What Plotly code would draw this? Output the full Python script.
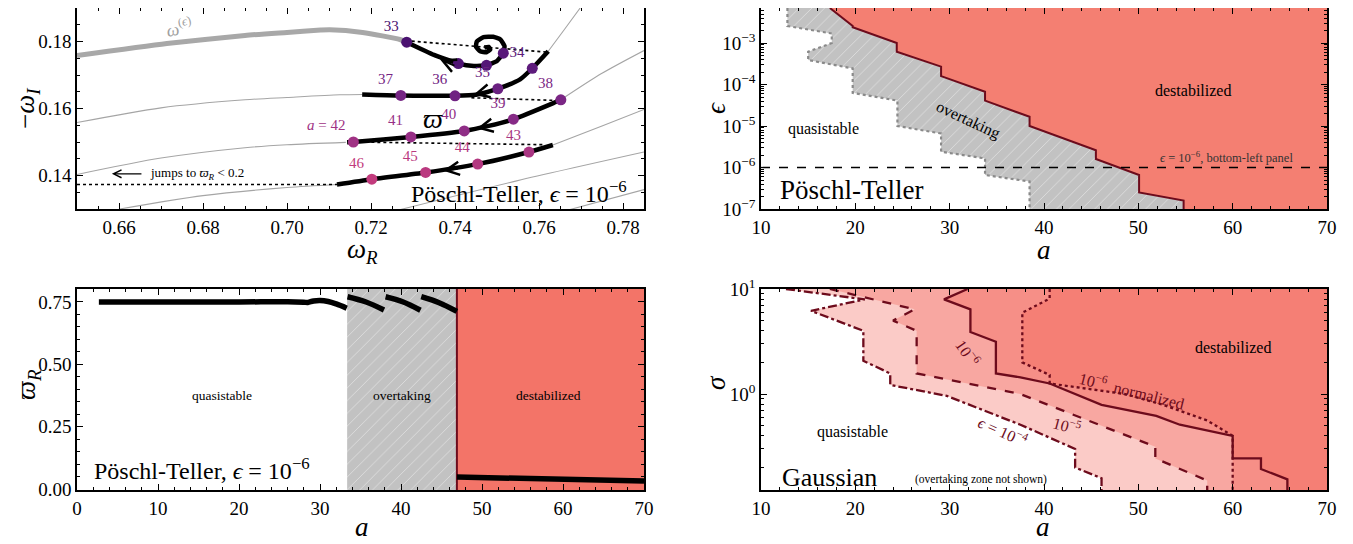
import numpy as np
import plotly.graph_objects as go

FONT = "Liberation Serif"
MAROON = "#6D0B1C"

# ---------------- top-left: spectra in complex plane ----------------
# thick grey branch omega^(eps)
weps_R = [0.650, 0.6714, 0.690, 0.700, 0.708, 0.7102, 0.718, 0.7269, 0.7285]
weps_I = [0.1758, 0.1794, 0.1818, 0.1827, 0.1834, 0.1835, 0.1827, 0.1806, 0.1798]
# thin grey background branches
g_lines = [
    ([0.650, 0.670, 0.690, 0.700, 0.7126, 0.718], [0.1558, 0.1602, 0.1626, 0.1633, 0.1641, 0.1642]),
    ([0.650, 0.670, 0.690, 0.700, 0.714], [0.1403, 0.1452, 0.1483, 0.1492, 0.1499]),
    ([0.6602, 0.680, 0.700, 0.712], [0.1300, 0.1340, 0.1364, 0.1373]),
    ([0.7622, 0.7660, 0.7698], [0.1771, 0.1835, 0.1900]),
    ([0.7652, 0.775, 0.785], [0.1626, 0.1705, 0.1773]),
    ([0.7633, 0.775, 0.785], [0.1491, 0.1548, 0.1597]),
    ([0.7253, 0.7547, 0.785], [0.1293, 0.1384, 0.1470]),
    ([0.7658, 0.785], [0.1293, 0.1358]),
]
# thick black followed branches
p1_R = [0.7285, 0.7350, 0.7408, 0.7445, 0.7475, 0.7500, 0.7515, 0.7518, 0.7508, 0.7491,
        0.7468, 0.7452, 0.7450, 0.7460, 0.7475, 0.7484, 0.7480, 0.7470]
p1_I = [0.1798, 0.1760, 0.1734, 0.1727, 0.1729, 0.1742, 0.1765, 0.1786, 0.1806, 0.1814,
        0.1813, 0.1800, 0.1784, 0.1771, 0.1768, 0.1776, 0.1784, 0.1782]
p2_R = [0.7179, 0.7271, 0.7400, 0.7450, 0.7502, 0.7555, 0.7584, 0.7622]
p2_I = [0.1642, 0.1639, 0.1638, 0.1641, 0.1659, 0.1687, 0.1720, 0.1771]
p3_R = [0.7652, 0.7634, 0.7539, 0.7480, 0.7422, 0.7295, 0.7158, 0.7143]
p3_I = [0.1626, 0.1616, 0.1568, 0.1548, 0.1533, 0.1515, 0.1500, 0.1499]
p4_R = [0.7633, 0.7576, 0.7454, 0.7330, 0.7202, 0.7119]
p4_I = [0.1491, 0.1470, 0.1434, 0.1409, 0.1389, 0.1373]
# dotted jumps
jumps = [
    ([0.7297, 0.7622], [0.1801, 0.1768]),
    ([0.7439, 0.7642], [0.1632, 0.1624]),
    ([0.7158, 0.7610], [0.1500, 0.1492]),
    ([0.650, 0.7119], [0.1373, 0.1373]),
]
# labelled dots
dot_a = [33, 34, 35, 36, 37, 38, 39, 40, 41, 42, 43, 44, 45, 46]
dot_R = [0.7285, 0.7584, 0.7502, 0.7400, 0.7271, 0.7652, 0.7539, 0.7422, 0.7295, 0.7158,
         0.7576, 0.7454, 0.7330, 0.7202]
dot_I = [0.1798, 0.1720, 0.1659, 0.1638, 0.1639, 0.1626, 0.1568, 0.1533, 0.1515, 0.1500,
         0.1470, 0.1434, 0.1409, 0.1389]
dot_col = ["#4A1270", "#5E1B7C", "#6A2080", "#702282", "#752483", "#7B2685", "#862A86",
           "#8F2D86", "#972F86", "#A03284", "#A93582", "#B33780", "#BA397F", "#C23B7D"]
spiral_R = [0.7408, 0.7475, 0.7515]
spiral_I = [0.1734, 0.1729, 0.1765]
spiral_col = ["#501474", "#541677", "#581879"]

# ---------------- top-right: Poschl-Teller phase diagram ----------------
destab_a = [17.3, 19.72, 19.72, 24.39, 24.39, 29.09, 29.09, 33.75, 33.75, 38.47, 38.47, 45.5, 45.5, 50.08, 50.08, 54.8, 54.8]
destab_eps = [7e-3, 2.57e-3, 2.4e-3, 1.0e-3, 6.2e-4, 2.7e-4, 1.6e-4, 6.7e-5, 4.1e-5, 1.67e-5, 1.0e-5, 2.6e-6, 1.6e-6, 6.6e-7, 2.5e-7, 1.6e-7, 1e-7]
overt_a = [12.8, 12.8, 17.5, 17.5, 15.0, 15.0, 19.72, 19.72, 24.46, 24.46, 29.09, 29.09, 33.75, 33.75, 38.47, 38.47]
overt_eps = [7e-3, 2.57e-3, 1.7e-3, 1.0e-3, 6.2e-4, 3.9e-4, 2.45e-4, 6.3e-5, 4.1e-5, 1.0e-5, 6.6e-6, 2.4e-6, 1.66e-6, 6.6e-7, 4.6e-7, 1e-7]
eps_range = [1e-7, 7e-3]
a_range = [10, 70]
eps_ref = 1e-6

# ---------------- bottom-left: varpi_R vs a ----------------
quasi_a = [2.7, 10, 20, 26, 28, 28.5, 29.2, 30, 31, 32, 33.3]
quasi_w = [0.750, 0.750, 0.750, 0.751, 0.749, 0.748, 0.754, 0.756, 0.752, 0.742, 0.725]
over_segs = [
    ([33.4, 35.6, 37.9], [0.771, 0.751, 0.718]),
    ([38.1, 40.2, 42.4], [0.771, 0.751, 0.717]),
    ([42.5, 44.7, 46.9], [0.771, 0.747, 0.712]),
]
dest_a = [46.9, 55, 62, 70]
dest_w = [0.048, 0.041, 0.036, 0.032]
a_overt_start = 33.35
a_destab_start = 46.9
w_range = [-0.004, 0.802]
bl_a_range = [0, 70]

# ---------------- bottom-right: Gaussian ----------------
e4_a = [12.65, 21.0, 15.3, 20.85, 20.85, 23.7, 23.7, 29.7, 37.5, 43.3, 43.3, 46.1, 46.1]
e4_s = [10.0, 7.96, 6.2, 4.0, 2.07, 1.57, 1.22, 0.96, 0.51, 0.30, 0.20, 0.158, 0.122]
e5_a = [17.3, 26.3, 24.0, 26.5, 26.5, 37.5, 51.8, 51.8, 57.3, 57.3]
e5_s = [10.0, 6.4, 5.0, 4.0, 1.57, 1.0, 0.315, 0.244, 0.15, 0.122]
e6_a = [31.9, 29.4, 32.2, 32.2, 34.9, 34.9, 37.5, 40.6, 46.1, 51.9, 54.4, 60.0, 60.0, 63.0, 63.0, 65.8, 65.8]
e6_s = [10.0, 7.96, 6.4, 3.9, 3.15, 1.57, 1.44, 1.26, 0.79, 0.62, 0.51, 0.40, 0.244, 0.244, 0.193, 0.154, 0.122]
e6n_a = [40.6, 40.6, 37.7, 37.7, 40.6, 40.6, 48.6, 52.6, 57.3, 60.0, 60.0]
e6n_s = [10.0, 8.1, 5.95, 2.0, 1.52, 1.26, 1.0, 0.79, 0.56, 0.40, 0.122]
sig_range = [0.122, 10.0]

# =========================================================================
fig = go.Figure()

def add(tr, ax):
    tr.update(xaxis="x" + ax, yaxis="y" + ax)
    fig.add_trace(tr)

# ---- top-left
for gx, gy in g_lines:
    add(go.Scatter(x=gx, y=gy, mode="lines", line=dict(color="#A5A5A5", width=1.1, shape="spline", smoothing=0.8),
                   hoverinfo="skip", showlegend=False), "")
add(go.Scatter(x=weps_R, y=weps_I, mode="lines", line=dict(color="#A8A8A8", width=5, shape="spline", smoothing=0.6),
               showlegend=False), "")
for jx, jy in jumps:
    add(go.Scatter(x=jx, y=jy, mode="lines", line=dict(color="black", width=1.6, dash="dot"),
                   showlegend=False), "")
add(go.Scatter(x=p1_R, y=p1_I, mode="lines", line=dict(color="black", width=4.5, shape="spline", smoothing=0.4),
               showlegend=False), "")
for px, py in [(p2_R, p2_I), (p3_R, p3_I), (p4_R, p4_I)]:
    add(go.Scatter(x=px, y=py, mode="lines", line=dict(color="black", width=4.5, shape="spline", smoothing=0.6),
                   showlegend=False), "")
add(go.Scatter(x=spiral_R, y=spiral_I, mode="markers",
               marker=dict(size=11, color=spiral_col), showlegend=False), "")
labels = [str(a) if a != 42 else "<i>a</i> = 42" for a in dot_a]
add(go.Scatter(x=dot_R, y=dot_I, mode="markers+text", text=labels, textposition="top left",
               textfont=dict(family=FONT, size=15, color=dot_col),
               marker=dict(size=11, color=dot_col), showlegend=False), "")

# ---- top-right
add(go.Scatter(x=destab_a + [a_range[1], a_range[1]], y=destab_eps + [eps_range[0], eps_range[1]],
               fill="toself", fillcolor="#F47F72", mode="none", showlegend=False), "2")
add(go.Scatter(x=overt_a + destab_a[::-1], y=overt_eps + destab_eps[::-1],
               fill="toself", mode="none", fillcolor="#C2C2C2",
               fillpattern=dict(shape="/", bgcolor="#C2C2C2", fgcolor="rgba(255,255,255,0.55)",
                                size=9, solidity=0.08, fillmode="replace"),
               showlegend=False), "2")
add(go.Scatter(x=overt_a, y=overt_eps, mode="lines", line=dict(color="#8A8A8A", width=2.2, dash="dot"),
               showlegend=False), "2")
add(go.Scatter(x=destab_a, y=destab_eps, mode="lines", line=dict(color=MAROON, width=2),
               showlegend=False), "2")
add(go.Scatter(x=a_range, y=[eps_ref, eps_ref], mode="lines",
               line=dict(color="black", width=1.3, dash="dash"), showlegend=False), "2")

# ---- bottom-left
add(go.Scatter(x=[a_overt_start, a_destab_start, a_destab_start, a_overt_start],
               y=[w_range[0], w_range[0], w_range[1], w_range[1]],
               fill="toself", mode="none", fillcolor="#C2C2C2",
               fillpattern=dict(shape="/", bgcolor="#C2C2C2", fgcolor="rgba(255,255,255,0.55)",
                                size=9, solidity=0.08, fillmode="replace"),
               showlegend=False), "3")
add(go.Scatter(x=[a_destab_start, bl_a_range[1], bl_a_range[1], a_destab_start],
               y=[w_range[0], w_range[0], w_range[1], w_range[1]],
               fill="toself", mode="none", fillcolor="#F37468", showlegend=False), "3")
add(go.Scatter(x=[a_destab_start, a_destab_start], y=w_range, mode="lines",
               line=dict(color=MAROON, width=2), showlegend=False), "3")
add(go.Scatter(x=quasi_a, y=quasi_w, mode="lines", line=dict(color="black", width=5.5, shape="spline"),
               showlegend=False), "3")
for sx, sy in over_segs:
    add(go.Scatter(x=sx, y=sy, mode="lines", line=dict(color="black", width=5.5, shape="spline"),
                   showlegend=False), "3")
add(go.Scatter(x=dest_a, y=dest_w, mode="lines", line=dict(color="black", width=5.5),
               showlegend=False), "3")

# ---- bottom-right
FILL = "rgba(242,92,80,0.32)"
for ba, bs in [(e4_a, e4_s), (e5_a, e5_s), (e6_a, e6_s), (e6n_a, e6n_s)]:
    add(go.Scatter(x=ba + [a_range[1], a_range[1]], y=bs + [sig_range[0], sig_range[1]],
                   fill="toself", fillcolor=FILL, mode="none", showlegend=False), "4")
for ba, bs, dsh in [(e4_a, e4_s, "dashdot"), (e5_a, e5_s, "dash"), (e6_a, e6_s, "solid"), (e6n_a, e6n_s, "dot")]:
    add(go.Scatter(x=ba, y=bs, mode="lines", line=dict(color=MAROON, width=2.3, dash=dsh),
                   showlegend=False), "4")

# =========================================================================
# the page body has an 8 px margin: lay the figure out in page pixels shifted by it
OFF = 8
W, H = 1353 - 2 * OFF, 544 - 2 * OFF
def px2paper(x, y):
    return (x - OFF) / W, 1 - (y - OFF) / H

xd_l = [(77 - OFF) / W, (644 - OFF) / W]
xd_r = [(761 - OFF) / W, (1327 - OFF) / W]
yd_t = [1 - (209 - OFF) / H, 1 - (8 - OFF) / H]
yd_b = [1 - (490 - OFF) / H, 1 - (289 - OFF) / H]

def axis(**kw):
    d = dict(showline=True, linecolor="black", linewidth=1.5, mirror="allticks",
             ticks="inside", ticklen=6, tickwidth=1.2, tickcolor="black",
             showgrid=False, zeroline=False, automargin=False,
             tickfont=dict(size=19, family=FONT, color="black"),
             minor=dict(ticks="inside", ticklen=3, tickwidth=1, tickcolor="black", showgrid=False))
    for k, v in kw.items():
        if k == "minor":
            d["minor"].update(v)
        else:
            d[k] = v
    return d

def log_minor(lo, hi):
    vals = []
    for e in range(int(np.floor(np.log10(lo))), int(np.ceil(np.log10(hi))) + 1):
        for m in range(2, 10):
            v = m * 10.0 ** e
            if lo <= v <= hi:
                vals.append(v)
    return vals

eps_major = [1e-7, 1e-6, 1e-5, 1e-4, 1e-3]
eps_text = ["10<sup>−7</sup>", "10<sup>−6</sup>", "10<sup>−5</sup>", "10<sup>−4</sup>", "10<sup>−3</sup>"]

layout = dict(
    width=W, height=H, margin=dict(l=0, r=0, t=0, b=0, autoexpand=False),
    paper_bgcolor="white", plot_bgcolor="white",
    font=dict(family=FONT, color="black"),
    showlegend=False,
    xaxis=axis(domain=xd_l, anchor="y", range=[0.65, 0.785],
               tickvals=[0.66, 0.68, 0.70, 0.72, 0.74, 0.76, 0.78], tickformat=".2f",
               minor=dict(dtick=0.005, tick0=0.65)),
    yaxis=axis(domain=yd_t, anchor="x", range=[0.13, 0.19],
               tickvals=[0.14, 0.16, 0.18], tickformat=".2f",
               minor=dict(dtick=0.005, tick0=0.13)),
    xaxis2=axis(domain=xd_r, anchor="y2", range=a_range, tickvals=list(range(10, 71, 10)),
                minor=dict(dtick=2, tick0=10)),
    yaxis2=axis(domain=yd_t, anchor="x2", type="log",
                range=[np.log10(eps_range[0]), np.log10(eps_range[1])],
                tickvals=eps_major, ticktext=eps_text,
                minor=dict(tickvals=log_minor(*eps_range))),
    xaxis3=axis(domain=xd_l, anchor="y3", range=bl_a_range, tickvals=list(range(0, 71, 10)),
                minor=dict(dtick=2, tick0=0)),
    yaxis3=axis(domain=yd_b, anchor="x3", range=w_range, tickvals=[0, 0.25, 0.5, 0.75],
                tickformat=".2f", minor=dict(dtick=0.05, tick0=0)),
    xaxis4=axis(domain=xd_r, anchor="y4", range=a_range, tickvals=list(range(10, 71, 10)),
                minor=dict(dtick=2, tick0=10)),
    yaxis4=axis(domain=yd_b, anchor="x4", type="log",
                range=[np.log10(sig_range[0]), np.log10(sig_range[1])],
                tickvals=[1, 10], ticktext=["10<sup>0</sup>", "10<sup>1</sup>"],
                minor=dict(tickvals=log_minor(*sig_range))),
)
fig.update_layout(**layout)

ann = []
def A(text, x, y, ref="", size=16, color="black", angle=0, xanchor="center", **kw):
    d = dict(text=text, x=x, y=y, showarrow=False, textangle=angle, xanchor=xanchor,
             font=dict(family=FONT, size=size, color=color))
    if ref == "paper":
        d.update(xref="paper", yref="paper")
    else:
        d.update(xref="x" + ref, yref="y" + ref)
    d.update(kw)
    ann.append(d)

# axis titles (positions in page pixels)
for txt, (px, py), ang, ya in [("−<i>ω</i><sub><i>I</i></sub>", (27, 108), -90, "middle"),
                               ("<i>ω</i><sub><i>R</i></sub>", (362, 251), 0, "middle"),
                               ("<i>ϵ</i>", (716, 108), -90, "middle"),
                               ("<i>a</i>", (1044, 250), 0, "middle"),
                               ("<i>ϖ</i><sub><i>R</i></sub>", (28, 385), -90, "middle"),
                               ("<i>a</i>", (362, 544), 0, "bottom"),
                               ("<i>σ</i>", (716, 383), -90, "middle"),
                               ("<i>a</i>", (1043, 544), 0, "bottom")]:
    x, y = px2paper(px, py)
    A(txt, x, y, ref="paper", size=27, angle=ang, yanchor=ya)

# top-left texts
A("<i>ω</i><sup>(<i>ϵ</i>)</sup>", 0.6742, 0.1843, size=18, color="#A0A0A0", angle=-12)
A("<i>ϖ</i>", 0.7348, 0.1570, size=28)
A("Pöschl-Teller, <i>ϵ</i> = 10<sup>−6</sup>", 0.7815, 0.1350, size=24, xanchor="right")
A("jumps to <i>ϖ</i><sub><i>R</i></sub> &lt; 0.2", 0.6668, 0.1405, size=13, xanchor="left")
ann.append(dict(x=0.6583, y=0.1405, ax=0.6657, ay=0.1405, xref="x", yref="y", axref="x", ayref="y",
                text="", showarrow=True, arrowhead=5, arrowsize=1.2, arrowwidth=1.3, arrowcolor="black"))
# chevrons along branches
for tx, ty, dx, dy in [(0.7364, 0.1747, 16, 7), (0.7444, 0.1641, 16, -4),
                       (0.7452, 0.1540, 16, -3.5), (0.7372, 0.1414, 16, -2.5)]:
    ann.append(dict(x=tx, y=ty, ax=dx, ay=dy, xref="x", yref="y", text="", showarrow=True,
                    arrowhead=5, arrowsize=1.3, arrowwidth=2, arrowcolor="black"))

# top-right texts
A("quasistable", 16.6, np.log10(8.5e-6), ref="2", size=16)
A("overtaking", 31.9, np.log10(1.4e-5), ref="2", size=16, angle=25)
A("destabilized", 55.8, np.log10(7e-5), ref="2", size=16)
A("Pöschl-Teller", 11.8, np.log10(2.9e-7), ref="2", size=27, xanchor="left")
A("<i>ϵ</i> = 10<sup>−6</sup>, bottom-left panel", 59.3, np.log10(1.75e-6), ref="2", size=12.5, color="#333333")

# bottom-left texts
A("quasistable", 17.9, 0.373, ref="3", size=13.5)
A("overtaking", 40.1, 0.373, ref="3", size=13.5)
A("destabilized", 58.2, 0.373, ref="3", size=13.5)
A("Pöschl-Teller, <i>ϵ</i> = 10<sup>−6</sup>", 1.8, 0.08, ref="3", size=24, xanchor="left")

# bottom-right texts
A("destabilized", 60.0, np.log10(2.8), ref="4", size=16)
A("quasistable", 19.7, np.log10(0.435), ref="4", size=16)
A("Gaussian", 12.0, np.log10(0.16), ref="4", size=26, xanchor="left")
A("(overtaking zone not shown)", 33.3, np.log10(0.152), ref="4", size=11.5)
A("10<sup>−6</sup>", 31.9, np.log10(2.5), ref="4", size=16, color=MAROON, angle=55)
A("10<sup>−6</sup>  normalized", 49.3, np.log10(1.1), ref="4", size=16, color=MAROON, angle=14)
A("10<sup>−5</sup>", 42.4, np.log10(0.51), ref="4", size=16, color=MAROON, angle=15)
A("<i>ϵ</i> = 10<sup>−4</sup>", 35.7, np.log10(0.44), ref="4", size=16, color=MAROON, angle=24)

fig.update_layout(annotations=ann)
fig.write_html("out.html")
